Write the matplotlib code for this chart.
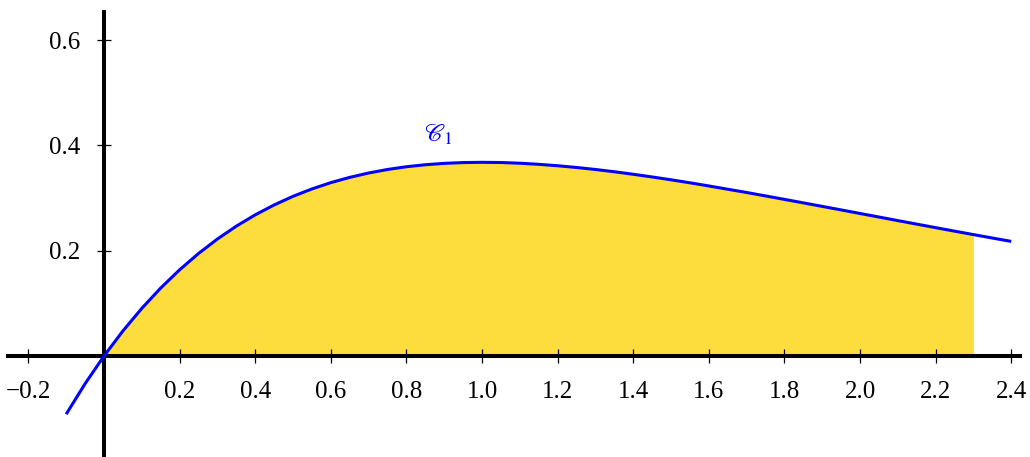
import matplotlib
matplotlib.use("Agg")
import matplotlib.pyplot as plt

plt.rcParams['font.family'] = ['Liberation Serif', 'DejaVu Serif']
plt.rcParams['mathtext.fontset'] = 'stix'

# curve C1, x step 0.05
x_vals = [-0.10, -0.05, 0.00, 0.05, 0.10, 0.15, 0.20, 0.25, 0.30, 0.35, 0.40,
          0.45, 0.50, 0.55, 0.60, 0.65, 0.70, 0.75, 0.80, 0.85, 0.90, 0.95,
          1.00, 1.05, 1.10, 1.15, 1.20, 1.25, 1.30, 1.35, 1.40, 1.45, 1.50,
          1.55, 1.60, 1.65, 1.70, 1.75, 1.80, 1.85, 1.90, 1.95, 2.00, 2.05,
          2.10, 2.15, 2.20, 2.25, 2.30, 2.35, 2.40]
y_vals = [-0.1105, -0.0526, 0.0, 0.0476, 0.0905, 0.1291, 0.1637, 0.1947,
          0.2222, 0.2466, 0.2681, 0.2869, 0.3033, 0.3173, 0.3293, 0.3393,
          0.3476, 0.3543, 0.3595, 0.3633, 0.3659, 0.3674, 0.3679, 0.3675,
          0.3662, 0.3641, 0.3614, 0.3581, 0.3543, 0.3500, 0.3452, 0.3401,
          0.3347, 0.3290, 0.3230, 0.3168, 0.3106, 0.3041, 0.2975, 0.2909,
          0.2842, 0.2775, 0.2707, 0.2640, 0.2572, 0.2505, 0.2438, 0.2372,
          0.2306, 0.2241, 0.2177]
fill_from = 0.0
fill_to = 2.3

x_ticks = [-0.2, 0.2, 0.4, 0.6, 0.8, 1.0, 1.2, 1.4, 1.6, 1.8, 2.0, 2.2, 2.4]
x_labels = ['\u22120.2', '0.2', '0.4', '0.6', '0.8', '1.0', '1.2', '1.4',
            '1.6', '1.8', '2.0', '2.2', '2.4']
y_ticks = [0.2, 0.4, 0.6]
y_labels = ['0.2', '0.4', '0.6']

fig = plt.figure(figsize=(10.30, 4.57), dpi=100)
ax = fig.add_axes([0, 0, 1, 1])
ax.set_xlim(-0.2751, 2.4497)
ax.set_ylim(-0.1918, 0.6762)

fx = [x for x in x_vals if fill_from <= x <= fill_to]
fy = [y for x, y in zip(x_vals, y_vals) if fill_from <= x <= fill_to]
ax.fill_between(fx, 0, fy, color='#fddc3e', lw=0, zorder=1)
ax.plot(x_vals, y_vals, color='#0000ff', lw=2.2, zorder=4,
        solid_capstyle='butt')

ax.text(0.885, 0.42, r'$\mathscr{C}_1$', color='#0000ff', fontsize=18,
        ha='center', va='center')

for s in ['top', 'right']:
    ax.spines[s].set_visible(False)
ax.spines['left'].set_position(('data', 0))
ax.spines['bottom'].set_position(('data', 0))
ax.spines['left'].set_bounds(-0.19, 0.653)
ax.spines['bottom'].set_bounds(-0.254, 2.423)
for s in ['left', 'bottom']:
    ax.spines[s].set_linewidth(2.9)
    ax.spines[s].set_zorder(3)

ax.set_xticks(x_ticks)
ax.set_xticklabels(x_labels)
ax.set_yticks(y_ticks)
ax.set_yticklabels(y_labels)
ax.tick_params(direction='inout', length=10, width=0.9, labelsize=18)
ax.tick_params(axis='x', pad=13)
ax.tick_params(axis='y', pad=12)

fig.savefig('out.png', dpi=100)
